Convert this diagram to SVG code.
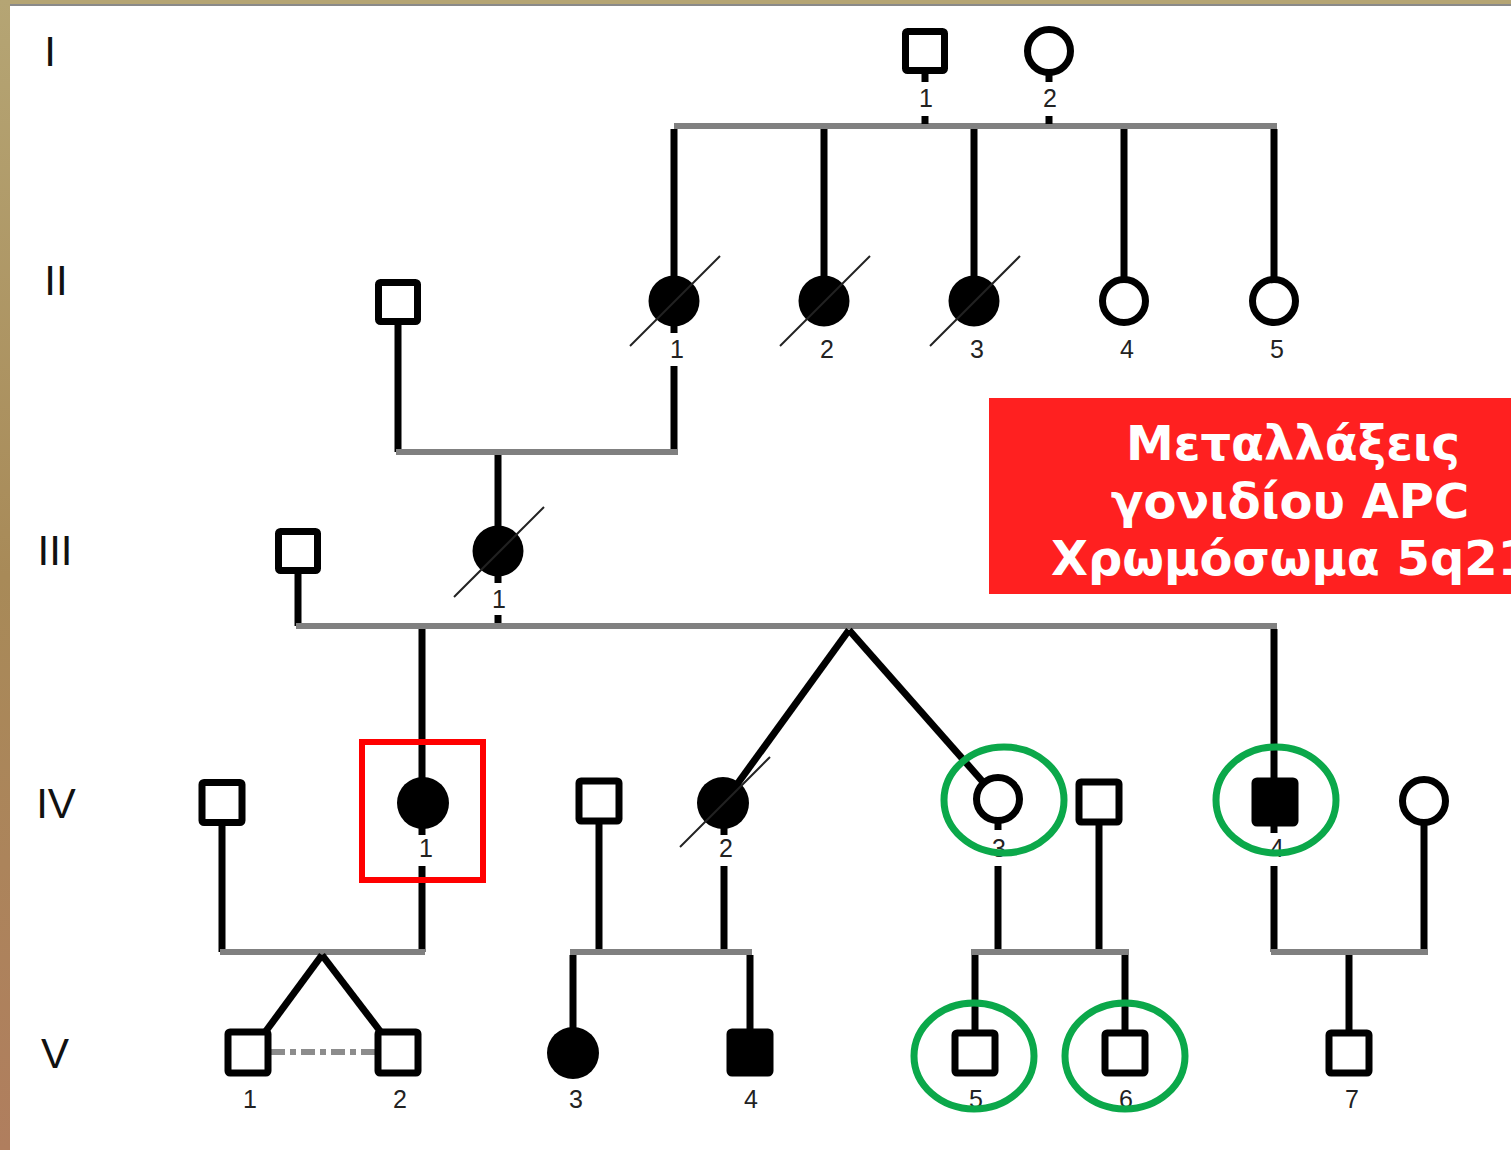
<svg xmlns="http://www.w3.org/2000/svg" width="1511" height="1150" viewBox="0 0 1511 1150">
<defs>
<linearGradient id="bgL" x1="0" y1="0" x2="0" y2="1">
<stop offset="0" stop-color="#b5a574"/>
<stop offset="0.5" stop-color="#a88a58"/>
<stop offset="1" stop-color="#b07e5e"/>
</linearGradient>
<style>
.bar{stroke:#808080;stroke-width:6;fill:none}
.ln{stroke:#000;stroke-width:7;fill:none}
.sq{fill:#fff;stroke:#000;stroke-width:7}
.sqf{fill:#000;stroke:#000;stroke-width:7}
.ci{fill:#fff;stroke:#000;stroke-width:7}
.cf{fill:#000}
.sl{stroke:#222;stroke-width:2}
.lbl{font-family:"Liberation Sans",Arial,sans-serif;font-size:25px;fill:#222;text-anchor:middle}
.gen{font-family:"Liberation Sans",Arial,sans-serif;font-size:42px;fill:#111;text-anchor:middle}
.grn{fill:none;stroke:#0ba84a;stroke-width:7}
.hdr{font-family:"DejaVu Sans",Verdana,sans-serif;font-weight:bold;font-size:48px;fill:#fff}
</style>
</defs>
<rect x="0" y="0" width="1511" height="1150" fill="#fff"/>
<rect x="0" y="0" width="1511" height="5" fill="#b5a574"/>
<rect x="0" y="4" width="1511" height="2" fill="#8a8a8a"/>
<rect x="0" y="0" width="10" height="1150" fill="url(#bgL)"/>

<g id="generations">
<text class="gen" x="50" y="66">I</text>
<text class="gen" x="56" y="295">II</text>
<text class="gen" x="55" y="565">III</text>
<text class="gen" x="56" y="818">IV</text>
<text class="gen" x="55" y="1068">V</text>
</g>

<g id="connectors">
<line class="bar" x1="674" y1="126" x2="1277" y2="126"/>
<line class="ln" x1="925" y1="72" x2="925" y2="82"/>
<line class="ln" x1="925" y1="116" x2="925" y2="124"/>
<line class="ln" x1="1049" y1="72" x2="1049" y2="82"/>
<line class="ln" x1="1049" y1="116" x2="1049" y2="124"/>
<line class="ln" x1="674" y1="129" x2="674" y2="280"/>
<line class="ln" x1="824" y1="129" x2="824" y2="280"/>
<line class="ln" x1="974" y1="129" x2="974" y2="280"/>
<line class="ln" x1="1124" y1="129" x2="1124" y2="280"/>
<line class="ln" x1="1274" y1="129" x2="1274" y2="280"/>
<line class="ln" x1="674" y1="324" x2="674" y2="333"/>
<line class="ln" x1="674" y1="366" x2="674" y2="452"/>
<line class="ln" x1="398" y1="323" x2="398" y2="452"/>
<line class="bar" x1="396" y1="452" x2="678" y2="452"/>
<line class="ln" x1="498" y1="455" x2="498" y2="530"/>
<line class="ln" x1="298" y1="572" x2="298" y2="626"/>
<line class="ln" x1="498" y1="574" x2="498" y2="583"/>
<line class="ln" x1="498" y1="615" x2="498" y2="624"/>
<line class="bar" x1="296" y1="626" x2="1277" y2="626"/>
<line class="ln" x1="422" y1="629" x2="422" y2="780"/>
<line class="ln" x1="849" y1="630" x2="738" y2="783"/>
<line class="ln" x1="849" y1="630" x2="983" y2="782"/>
<line class="ln" x1="1274" y1="629" x2="1274" y2="780"/>
<line class="ln" x1="422" y1="826" x2="422" y2="835"/>
<line class="ln" x1="422" y1="866" x2="422" y2="952"/>
<line class="ln" x1="222" y1="823" x2="222" y2="952"/>
<line class="bar" x1="220" y1="952" x2="425" y2="952"/>
<line class="ln" x1="322" y1="955" x2="266" y2="1031"/>
<line class="ln" x1="322" y1="955" x2="380" y2="1031"/>
<line x1="271" y1="1052" x2="376" y2="1052" stroke="#8c8c8c" stroke-width="6" stroke-dasharray="14 5 6 5"/>
<line class="ln" x1="724" y1="826" x2="724" y2="835"/>
<line class="ln" x1="724" y1="866" x2="724" y2="952"/>
<line class="ln" x1="599" y1="822" x2="599" y2="952"/>
<line class="bar" x1="570" y1="952" x2="752" y2="952"/>
<line class="ln" x1="573" y1="955" x2="573" y2="1030"/>
<line class="ln" x1="750" y1="955" x2="750" y2="1030"/>
<line class="ln" x1="998" y1="820" x2="998" y2="830"/>
<line class="ln" x1="998" y1="866" x2="998" y2="952"/>
<line class="ln" x1="1099" y1="823" x2="1099" y2="952"/>
<line class="bar" x1="971" y1="952" x2="1129" y2="952"/>
<line class="ln" x1="975" y1="955" x2="975" y2="1031"/>
<line class="ln" x1="1125" y1="955" x2="1125" y2="1031"/>
<line class="ln" x1="1274" y1="824" x2="1274" y2="833"/>
<line class="ln" x1="1274" y1="866" x2="1274" y2="952"/>
<line class="ln" x1="1424" y1="822" x2="1424" y2="952"/>
<line class="bar" x1="1271" y1="952" x2="1428" y2="952"/>
<line class="ln" x1="1349" y1="955" x2="1349" y2="1031"/>
</g>

<g id="I-1"><rect class="sq" x="905.5" y="31.5" width="39" height="39" rx="2"/><text class="lbl" x="926" y="107">1</text></g>
<g id="I-2"><circle class="ci" cx="1049" cy="51" r="21.5"/><text class="lbl" x="1050" y="107">2</text></g>

<g id="II-1"><circle class="cf" cx="674" cy="301" r="25.5"/><line class="sl" x1="630" y1="346" x2="720" y2="256"/><text class="lbl" x="677" y="358">1</text></g>
<g id="II-2"><circle class="cf" cx="824" cy="301" r="25.5"/><line class="sl" x1="780" y1="346" x2="870" y2="256"/><text class="lbl" x="827" y="358">2</text></g>
<g id="II-3"><circle class="cf" cx="974" cy="301" r="25.5"/><line class="sl" x1="930" y1="346" x2="1020" y2="256"/><text class="lbl" x="977" y="358">3</text></g>
<g id="II-4"><circle class="ci" cx="1124" cy="301" r="21.5"/><text class="lbl" x="1127" y="358">4</text></g>
<g id="II-5"><circle class="ci" cx="1274" cy="301" r="21.5"/><text class="lbl" x="1277" y="358">5</text></g>
<g id="II-spouse"><rect class="sq" x="378.5" y="282.5" width="39" height="39" rx="2"/></g>

<g id="III-spouse"><rect class="sq" x="278.5" y="531.5" width="39" height="39" rx="2"/></g>
<g id="III-1"><circle class="cf" cx="498" cy="551" r="25.5"/><line class="sl" x1="454" y1="597" x2="544" y2="507"/><text class="lbl" x="499" y="608">1</text></g>

<g id="IV-spouse1"><rect class="sq" x="202" y="782.5" width="40" height="40" rx="2"/></g>
<g id="IV-1"><circle class="cf" cx="423" cy="803" r="26"/><text class="lbl" x="426" y="857">1</text><rect x="362" y="742" width="121" height="138" fill="none" stroke="#ff0000" stroke-width="6"/></g>
<g id="IV-spouse2"><rect class="sq" x="579" y="781" width="40" height="40" rx="2"/></g>
<g id="IV-2"><circle class="cf" cx="723" cy="803" r="26"/><line class="sl" x1="680" y1="847" x2="770" y2="757"/><text class="lbl" x="726" y="857">2</text></g>
<g id="IV-3"><circle class="ci" cx="998" cy="799" r="21.5"/><text class="lbl" x="999" y="857">3</text><ellipse class="grn" cx="1004" cy="800" rx="60" ry="53"/></g>
<g id="IV-spouse3"><rect class="sq" x="1079" y="782" width="40" height="40" rx="2"/></g>
<g id="IV-4"><rect class="sqf" x="1255" y="781" width="40" height="42" rx="2"/><text class="lbl" x="1277" y="857">4</text><ellipse class="grn" cx="1276" cy="800" rx="60" ry="53"/></g>
<g id="IV-spouse4"><circle class="ci" cx="1424" cy="801" r="21.5"/></g>

<g id="V-1"><rect class="sq" x="228" y="1032" width="40" height="41" rx="2"/><text class="lbl" x="250" y="1108">1</text></g>
<g id="V-2"><rect class="sq" x="378" y="1032" width="40" height="41" rx="2"/><text class="lbl" x="400" y="1108">2</text></g>
<g id="V-3"><circle class="cf" cx="573" cy="1053" r="26"/><text class="lbl" x="576" y="1108">3</text></g>
<g id="V-4"><rect class="sqf" x="730" y="1032" width="40" height="41" rx="2"/><text class="lbl" x="751" y="1108">4</text></g>
<g id="V-5"><rect class="sq" x="955" y="1033" width="40" height="40" rx="2"/><text class="lbl" x="976" y="1108">5</text><ellipse class="grn" cx="974" cy="1056" rx="60" ry="53"/></g>
<g id="V-6"><rect class="sq" x="1105" y="1033" width="40" height="40" rx="2"/><text class="lbl" x="1126" y="1108">6</text><ellipse class="grn" cx="1125" cy="1056" rx="60" ry="53"/></g>
<g id="V-7"><rect class="sq" x="1329" y="1033" width="40" height="40" rx="2"/><text class="lbl" x="1352" y="1108">7</text></g>

<g id="label-box">
<rect x="989" y="398" width="522" height="196" fill="#ff2020"/>
<text class="hdr" x="1293" y="460" text-anchor="middle">Μεταλλάξεις</text>
<text class="hdr" x="1290" y="518" text-anchor="middle">γονιδίου APC</text>
<text class="hdr" x="1051" y="575">Χρωμόσωμα 5q21</text>
</g>
</svg>
